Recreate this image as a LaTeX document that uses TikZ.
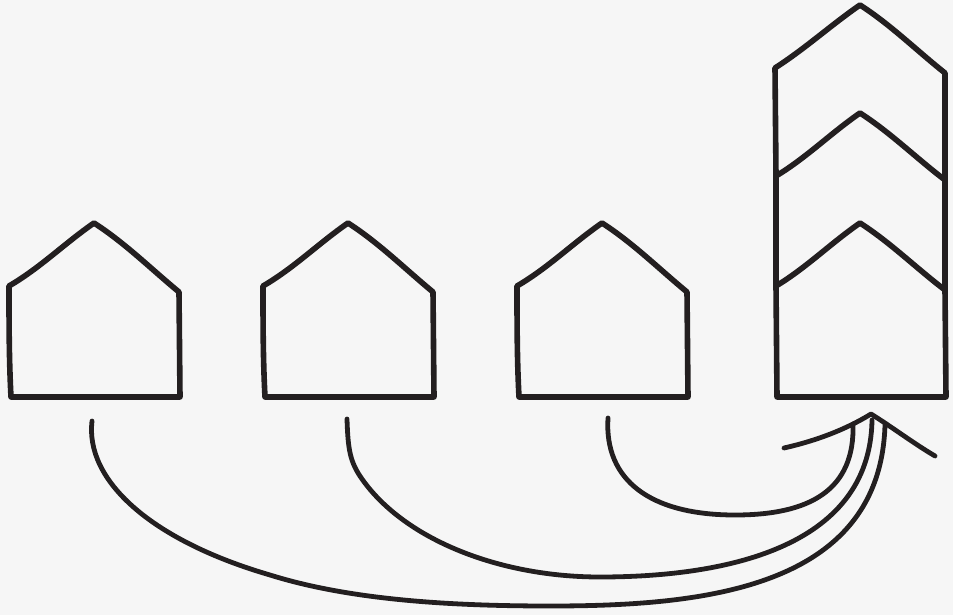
\documentclass[tikz,border=0pt]{standalone}
\definecolor{bgc}{HTML}{F6F6F6}
\definecolor{ink}{HTML}{231F20}
\tikzset{sk/.style={draw=ink,line width=5.6pt,line cap=round,line join=round},
 sa/.style={draw=ink,line width=4.8pt,line cap=round,line join=round}}
\begin{document}
\begin{tikzpicture}[x=1pt,y=-1pt]
\fill[bgc] (0,0) rectangle (953,615);
\useasboundingbox (0,0) rectangle (953,615);
\draw[sk] (9,286) .. controls (9,320) and (9,360) .. (11,397) -- (180,397) -- (179,292) .. controls (150,268) and (125,243) .. (94,223) .. controls (65,243) and (40,268) .. (9,286) -- cycle;
\draw[sk] (263,286) .. controls (263,320) and (263,360) .. (265,397) -- (434,397) -- (433,292) .. controls (404,268) and (379,243) .. (348,223) .. controls (319,243) and (294,268) .. (263,286) -- cycle;
\draw[sk] (517,286) .. controls (517,320) and (517,360) .. (519,397) -- (688,397) -- (687,292) .. controls (658,268) and (633,243) .. (602,223) .. controls (573,243) and (548,268) .. (517,286) -- cycle;
\draw[sk] (776,286) -- (777,397) -- (946,397) -- (945,290) .. controls (916,268) and (891,243) .. (860,223) .. controls (831,243) and (806,268) .. (776,286);
\draw[sk] (776,176) -- (776,286);
\draw[sk] (945,180) -- (945,290);
\draw[sk] (776,176) .. controls (806,158) and (831,133) .. (860,113) .. controls (891,133) and (916,158) .. (945,180);
\draw[sk] (776,176) -- (775,68) .. controls (806,48) and (831,25) .. (860,5) .. controls (891,25) and (916,50) .. (945,73) -- (945,180);
\draw[sa] (784,448) .. controls (815,441) and (845,430) .. (871,414) .. controls (892,427) and (913,443) .. (935,456);
\draw[sa] (608,418) .. controls (604,480) and (650,515) .. (735,515) .. controls (810,515) and (855,490) .. (853,424);
\draw[sa] (347,419) .. controls (348,450) and (350,462) .. (362,479) .. controls (405,540) and (500,577) .. (600,577) .. controls (720,577) and (870,550) .. (872,420);
\draw[sa] (92,421) .. controls (85,480) and (150,540) .. (270,575) .. controls (350,600) and (450,606) .. (550,606) .. controls (700,606) and (880,590) .. (885,425);
\end{tikzpicture}
\end{document}
